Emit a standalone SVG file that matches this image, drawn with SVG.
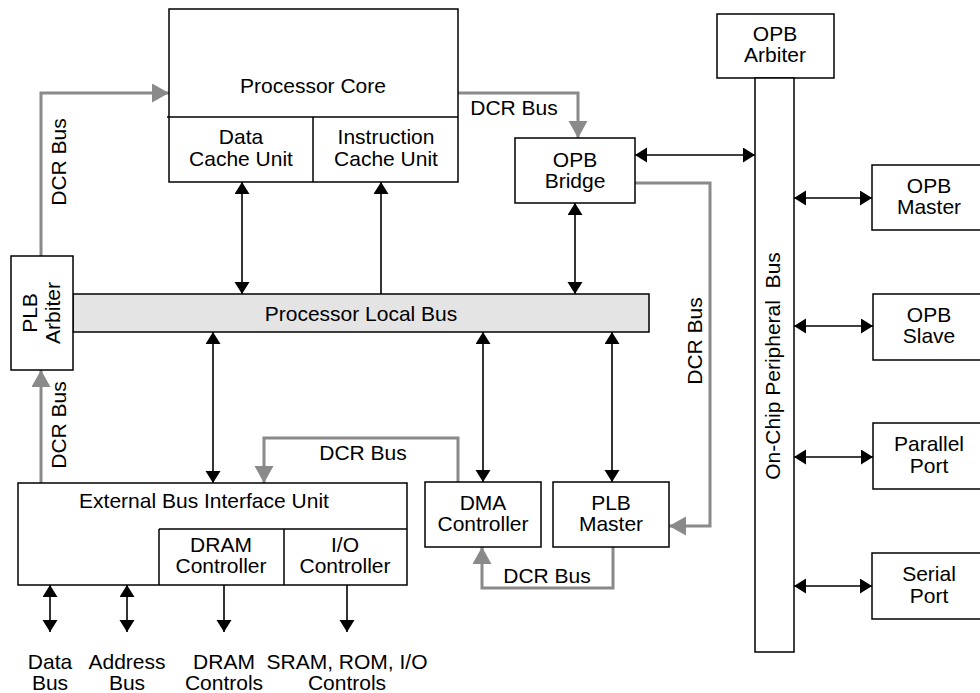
<svg xmlns="http://www.w3.org/2000/svg" width="980" height="693" viewBox="0 0 980 693">
<style>
.box{fill:#fff;stroke:#000;stroke-width:1.5}
.bus{fill:#e4e4e4;stroke:#000;stroke-width:1.5}
.ln{fill:none;stroke:#000;stroke-width:1.5}
.blk{fill:none;stroke:#000;stroke-width:1.6}
.gry{fill:none;stroke:#8a8a8a;stroke-width:3}
text{font-family:"Liberation Sans",Arial,sans-serif;font-size:21px;fill:#000;text-anchor:middle}
</style>
<defs>
<marker id="ab" markerUnits="userSpaceOnUse" markerWidth="13" markerHeight="16" refX="12" refY="7.5" orient="auto-start-reverse"><path d="M0,0 L12,7.5 L0,15 z" fill="#000"/></marker>
<marker id="ag" markerUnits="userSpaceOnUse" markerWidth="18" markerHeight="20" refX="17" refY="9.5" orient="auto-start-reverse"><path d="M0,0 L17,9.5 L0,19 z" fill="#8a8a8a"/></marker>
</defs>
<g id="connectors">
<path class="blk" d="M242,294 L242,182" marker-start="url(#ab)" marker-end="url(#ab)"/>
<path class="blk" d="M381,294 L381,182" marker-end="url(#ab)"/>
<path class="blk" d="M575,294 L575,203" marker-start="url(#ab)" marker-end="url(#ab)"/>
<path class="blk" d="M635,155 L755,155" marker-start="url(#ab)" marker-end="url(#ab)"/>
<path class="blk" d="M213,332 L213,483" marker-start="url(#ab)" marker-end="url(#ab)"/>
<path class="blk" d="M483,332 L483,482" marker-start="url(#ab)" marker-end="url(#ab)"/>
<path class="blk" d="M612,332 L612,482" marker-start="url(#ab)" marker-end="url(#ab)"/>
<path class="blk" d="M794,198 L872,198" marker-start="url(#ab)" marker-end="url(#ab)"/>
<path class="blk" d="M794,326 L873,326" marker-start="url(#ab)" marker-end="url(#ab)"/>
<path class="blk" d="M794,457 L873,457" marker-start="url(#ab)" marker-end="url(#ab)"/>
<path class="blk" d="M794,586 L872,586" marker-start="url(#ab)" marker-end="url(#ab)"/>
<path class="blk" d="M50,585 L50,632" marker-start="url(#ab)" marker-end="url(#ab)"/>
<path class="blk" d="M127,585 L127,632" marker-start="url(#ab)" marker-end="url(#ab)"/>
<path class="blk" d="M224,585 L224,632" marker-end="url(#ab)"/>
<path class="blk" d="M347,585 L347,632" marker-end="url(#ab)"/>
<path class="gry" d="M41,256 L41,93 L169,93" marker-end="url(#ag)"/>
<path class="gry" d="M458,93 L578,93 L578,138" marker-end="url(#ag)"/>
<path class="gry" d="M41,483 L41,370" marker-end="url(#ag)"/>
<path class="gry" d="M458,482 L458,438 L264,438 L264,483" marker-end="url(#ag)"/>
<path class="gry" d="M613,547 L613,588 L482,588 L482,547" marker-end="url(#ag)"/>
<path class="gry" d="M635,183 L710,183 L710,526 L669,526" marker-end="url(#ag)"/>
<text x="514" y="115">DCR Bus</text>
<text transform="translate(66,162) rotate(-90)">DCR Bus</text>
<text transform="translate(66,425) rotate(-90)">DCR Bus</text>
<text transform="translate(702,341) rotate(-90)">DCR Bus</text>
<text x="363" y="460">DCR Bus</text>
<text x="547" y="583">DCR Bus</text>
</g>
<g id="processor-core">
<rect class="box" x="169" y="9" width="289" height="173"/>
<line class="ln" x1="167" y1="117" x2="458" y2="117"/>
<line class="ln" x1="313" y1="117" x2="313" y2="182"/>
<text x="313" y="93">Processor Core</text>
</g>
<g id="data-cache">
<text x="241" y="144">Data</text>
<text x="241" y="166">Cache Unit</text>
</g>
<g id="instruction-cache">
<text x="386" y="144">Instruction</text>
<text x="386" y="166">Cache Unit</text>
</g>
<g id="opb-bridge">
<rect class="box" x="515" y="138" width="120" height="65"/>
<text x="575" y="167">OPB</text>
<text x="575" y="188">Bridge</text>
</g>
<g id="opb-arbiter">
<rect class="box" x="717" y="14" width="117" height="64"/>
<text x="775" y="41">OPB</text>
<text x="775" y="62">Arbiter</text>
</g>
<g id="opb-bus">
<rect class="box" x="755" y="78" width="39" height="574"/>
<text transform="translate(780,366) rotate(-90)" xml:space="preserve">On-Chip Peripheral  Bus</text>
</g>
<g id="opb-master">
<rect class="box" x="872" y="165" width="120" height="65"/>
<text x="929" y="193">OPB</text>
<text x="929" y="214">Master</text>
</g>
<g id="opb-slave">
<rect class="box" x="873" y="294" width="120" height="66"/>
<text x="929" y="322">OPB</text>
<text x="929" y="343">Slave</text>
</g>
<g id="parallel-port">
<rect class="box" x="873" y="423" width="120" height="66"/>
<text x="929" y="451">Parallel</text>
<text x="929" y="473">Port</text>
</g>
<g id="serial-port">
<rect class="box" x="872" y="553" width="120" height="66"/>
<text x="929" y="581">Serial</text>
<text x="929" y="603">Port</text>
</g>
<g id="plb">
<rect class="bus" x="73" y="294" width="576" height="38"/>
<text x="361" y="321">Processor Local Bus</text>
</g>
<g id="plb-arbiter">
<rect class="box" x="11" y="256" width="62" height="114"/>
<text transform="translate(37,313) rotate(-90)">PLB</text>
<text transform="translate(60,313) rotate(-90)">Arbiter</text>
</g>
<g id="ebiu">
<rect class="box" x="18" y="483" width="389" height="102"/>
<line class="ln" x1="159" y1="529" x2="407" y2="529"/>
<line class="ln" x1="159" y1="529" x2="159" y2="585"/>
<line class="ln" x1="284" y1="529" x2="284" y2="585"/>
<text x="204" y="508">External Bus Interface Unit</text>
</g>
<g id="dram-controller">
<text x="221" y="552">DRAM</text>
<text x="221" y="573">Controller</text>
</g>
<g id="io-controller">
<text x="345" y="552">I/O</text>
<text x="345" y="573">Controller</text>
</g>
<g id="dma-controller">
<rect class="box" x="425" y="482" width="116" height="65"/>
<text x="483" y="510">DMA</text>
<text x="483" y="531">Controller</text>
</g>
<g id="plb-master">
<rect class="box" x="553" y="482" width="116" height="65"/>
<text x="611" y="510">PLB</text>
<text x="611" y="531">Master</text>
</g>
<g id="bottom-labels">
<text x="50" y="669">Data</text>
<text x="50" y="690">Bus</text>
<text x="127" y="669">Address</text>
<text x="127" y="690">Bus</text>
<text x="224" y="669">DRAM</text>
<text x="224" y="690">Controls</text>
<text x="347" y="669">SRAM, ROM, I/O</text>
<text x="347" y="690">Controls</text>
</g>
</svg>
